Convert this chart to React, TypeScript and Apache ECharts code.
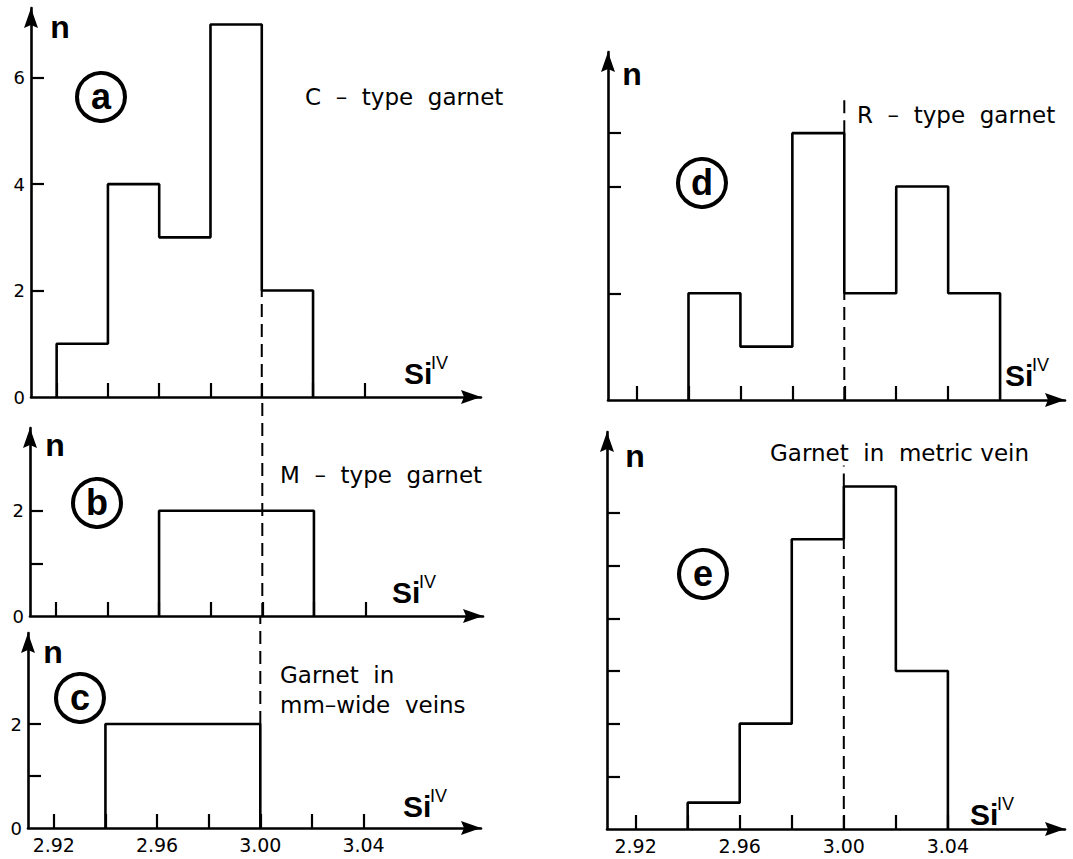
import React, { useEffect, useRef } from "react";
import * as echarts from "echarts";

// ---------- data ----------
const BIN_WIDTH = 0.02;

const binStartA = 2.92;
const countsA = [1, 4, 3, 7, 2];
const binStartB = 2.96;
const countsB = [2, 2, 2];
const binStartC = 2.94;
const countsC = [2, 2, 2];
const binStartD = 2.94;
const countsD = [2, 1, 5, 2, 4, 2];
const binStartE = 2.94;
const countsE = [1, 4, 11, 13, 6];

const xTicks = [2.92, 2.94, 2.96, 2.98, 3.0, 3.02, 3.04];
const xTickLabels = [2.92, 2.96, 3.0, 3.04];

const yTicksA = [2, 4, 6];
const yLabelsA = [0, 2, 4, 6];
const yTicksB = [1, 2];
const yLabelsB = [0, 2];
const yTicksC = [1, 2];
const yLabelsC = [0, 2];
const yTicksD = [2, 4, 5];
const yTicksE = [2, 4, 6, 8, 10, 12];

const refValue = 3.0; // dashed reference at Si(IV) = 3.00
const refSegA = [[0, 2]];
const refSegB = [[0, 4.15]];
const refSegC = [[2, 4.08]];
const refSegD = [[0, 2], [5, 5.62]];
const refSegE = [[0, 11], [13, 13.8]];

const titleA = "C  –  type  garnet";
const titleB = "M  –  type  garnet";
const titleC1 = "Garnet  in";
const titleC2 = "mm–wide  veins";
const titleD = "R  –  type  garnet";
const titleE = "Garnet  in  metric vein";

// ---------- helpers ----------
function outline(start: number, counts: number[]) {
  const pts: number[][] = [[start, 0]];
  counts.forEach((c, i) => {
    const x0 = +(start + i * BIN_WIDTH).toFixed(4);
    const x1 = +(start + (i + 1) * BIN_WIDTH).toFixed(4);
    pts.push([x0, c], [x1, c]);
  });
  pts.push([+(start + counts.length * BIN_WIDTH).toFixed(4), 0]);
  return pts;
}

const BLACK = "#000";
const FONT = "DejaVu Sans";
const BOLD = "Liberation Sans";
const LW = 2.6;
const ARROW = "path://M0,0 L7,20 L0,17 L-7,20 Z";

function makeX(idx: number, min: number, max: number, showLabels: boolean) {
  return {
    type: "value",
    gridIndex: idx,
    min,
    max,
    axisLine: {
      show: true,
      onZero: false,
      lineStyle: { color: BLACK, width: LW },
      symbol: ["none", ARROW],
      symbolSize: [14, 21],
      symbolOffset: [0, -10],
    },
    axisTick: {
      show: true,
      inside: true,
      length: 14,
      lineStyle: { color: BLACK, width: 2.2 },
      customValues: xTicks,
    },
    axisLabel: {
      show: showLabels,
      customValues: xTickLabels,
      formatter: (v: number) => `{t|${v.toFixed(2)}}`,
      color: BLACK,
      fontFamily: FONT,
      fontSize: 19,
      margin: 7,
      rich: { t: { fontSize: 19, fontFamily: FONT, color: BLACK } },
    },
    splitLine: { show: false },
  };
}

function makeY(idx: number, max: number, ticks: number[], labels: number[] | null) {
  return {
    type: "value",
    gridIndex: idx,
    min: 0,
    max,
    axisLine: {
      show: true,
      onZero: false,
      lineStyle: { color: BLACK, width: LW },
      symbol: ["none", ARROW],
      symbolSize: [14, 21],
      symbolOffset: [0, -10],
    },
    axisTick: {
      show: true,
      inside: true,
      length: 13,
      lineStyle: { color: BLACK, width: 2.2 },
      customValues: ticks,
    },
    axisLabel: {
      show: !!labels,
      customValues: labels || [],
      formatter: (v: number) => `{t|${Math.round(v)}}`,
      color: BLACK,
      fontFamily: FONT,
      fontSize: 18,
      margin: 6,
      rich: { t: { fontSize: 18, fontFamily: FONT, color: BLACK } },
    },
    splitLine: { show: false },
  };
}

function histSeries(idx: number, start: number, counts: number[]) {
  return {
    type: "line",
    xAxisIndex: idx,
    yAxisIndex: idx,
    data: outline(start, counts),
    symbol: "none",
    showSymbol: false,
    silent: true,
    lineStyle: { color: BLACK, width: LW },
    z: 3,
  };
}

function refSeries(idx: number, segs: number[][]) {
  return segs.map((s) => ({
    type: "line",
    xAxisIndex: idx,
    yAxisIndex: idx,
    data: [
      [refValue, s[0]],
      [refValue, s[1]],
    ],
    symbol: "none",
    showSymbol: false,
    silent: true,
    clip: false,
    lineStyle: { color: BLACK, width: 2, type: [13, 7] },
    z: 2,
  }));
}

function txt(x: number, y: number, text: string, size: number, opts: any = {}) {
  return {
    type: "text",
    x,
    y,
    silent: true,
    style: {
      text,
      fill: BLACK,
      font: `${opts.weight || "normal"} ${size}px "${opts.family || FONT}"`,
      textAlign: opts.align || "left",
      textVerticalAlign: "middle",
    },
  };
}

function circled(cx: number, cy: number, letter: string) {
  return [
    {
      type: "circle",
      silent: true,
      shape: { cx, cy, r: 24 },
      style: { fill: "none", stroke: BLACK, lineWidth: 4 },
    },
    txt(cx, cy - 1, letter, 36, { weight: "bold", family: BOLD, align: "center" }),
  ];
}

function siLabel(x: number, y: number) {
  return [
    txt(x, y, "Si", 30, { weight: "bold", family: BOLD }),
    txt(x + 27, y - 10, "IV", 18, { family: BOLD }),
  ];
}

export default function App() {
  const ref = useRef<HTMLDivElement>(null);

  useEffect(() => {
    if (!ref.current) return;
    const chart = echarts.init(ref.current, null, { renderer: "svg" });

    const option: any = {
      animation: false,
      backgroundColor: "#fff",
      grid: [
        { left: 31, right: 592, top: 8, bottom: 462, outerBoundsMode: "none" },
        { left: 30, right: 590, top: 428, bottom: 243, outerBoundsMode: "none" },
        { left: 28, right: 592, top: 633, bottom: 31, outerBoundsMode: "none" },
        { left: 608, right: 8, top: 52, bottom: 459, outerBoundsMode: "none" },
        { left: 607, right: 8, top: 432, bottom: 30, outerBoundsMode: "none" },
      ],
      xAxis: [
        makeX(0, 2.91, 3.0855, false),
        makeX(1, 2.91, 3.0855, false),
        makeX(2, 2.91, 3.0855, true),
        makeX(3, 2.909, 3.085, false),
        makeX(4, 2.909, 3.085, true),
      ],
      yAxis: [
        makeY(0, 7.31, yTicksA, yLabelsA),
        makeY(1, 3.57, yTicksB, yLabelsB),
        makeY(2, 3.75, yTicksC, yLabelsC),
        makeY(3, 6.52, yTicksD, null),
        makeY(4, 15.07, yTicksE, null),
      ],
      series: [
        histSeries(0, binStartA, countsA),
        histSeries(1, binStartB, countsB),
        histSeries(2, binStartC, countsC),
        histSeries(3, binStartD, countsD),
        histSeries(4, binStartE, countsE),
        ...refSeries(0, refSegA),
        ...refSeries(1, refSegB),
        ...refSeries(2, refSegC),
        ...refSeries(3, refSegD),
        ...refSeries(4, refSegE),
      ],
      graphic: {
        elements: [
          // axis names "n"
          txt(60, 27, "n", 32, { weight: "bold", family: BOLD, align: "center" }),
          txt(55, 445, "n", 32, { weight: "bold", family: BOLD, align: "center" }),
          txt(53, 652, "n", 32, { weight: "bold", family: BOLD, align: "center" }),
          txt(632, 74, "n", 32, { weight: "bold", family: BOLD, align: "center" }),
          txt(635, 456, "n", 32, { weight: "bold", family: BOLD, align: "center" }),
          // Si IV labels
          ...siLabel(404, 373),
          ...siLabel(392, 592),
          ...siLabel(403, 806),
          ...siLabel(1005, 375),
          ...siLabel(970, 814),
          // panel letters
          ...circled(101, 97, "a"),
          ...circled(97, 503, "b"),
          ...circled(80, 698, "c"),
          ...circled(702, 183, "d"),
          ...circled(703, 574, "e"),
          // panel titles
          txt(305, 97, titleA, 23),
          txt(280, 475, titleB, 23),
          txt(280, 675, titleC1, 23),
          txt(280, 705, titleC2, 23),
          txt(857, 115, titleD, 23),
          txt(770, 453, titleE, 23),
        ],
      },
    };

    chart.setOption(option);
    return () => chart.dispose();
  }, []);

  return (
    <div
      ref={ref}
      style={{ position: "fixed", left: 0, top: 0, width: 1073, height: 859, background: "#fff" }}
    />
  );
}
